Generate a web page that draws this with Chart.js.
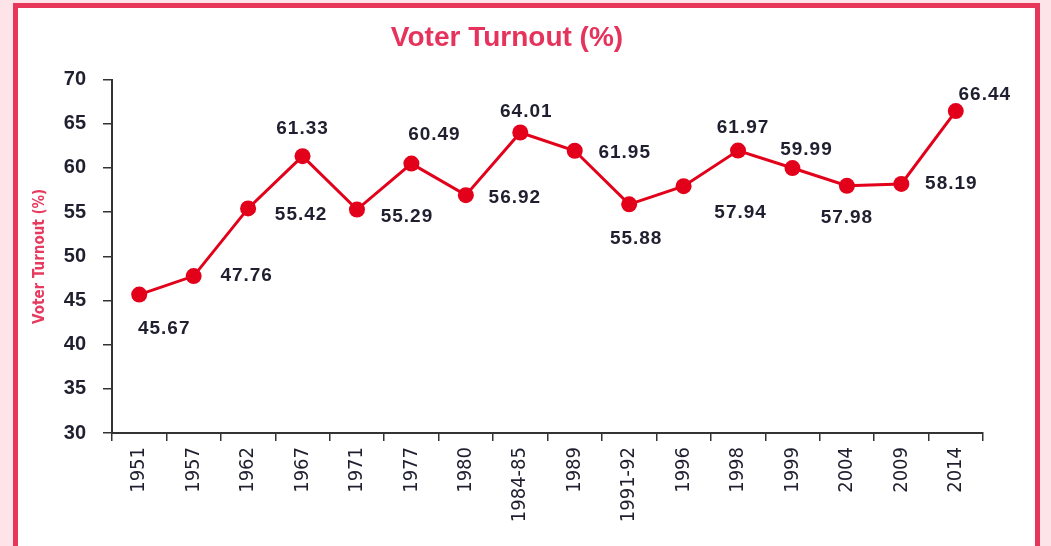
<!DOCTYPE html>
<html>
<head>
<meta charset="utf-8">
<script src="https://cdn.jsdelivr.net/npm/chart.js@4.4.1/dist/chart.umd.min.js"></script>
<style>
  html, body { margin: 0; padding: 0; width: 1051px; height: 546px; overflow: hidden; background: #fde4e9; }
  #frame { position: absolute; left: 13px; top: 3px; width: 1027px; height: 600px; box-sizing: border-box;
           border: 5px solid #e8365b; background: #ffffff; }
  #c { position: absolute; left: 0; top: 0; }
</style>
</head>
<body>
<div id="frame"></div>
<canvas id="c" width="1051" height="546"></canvas>
<script>
const categories = ['1951','1957','1962','1967','1971','1977','1980','1984-85','1989','1991-92','1996','1998','1999','2004','2009','2014'];
const turnout = [45.67, 47.76, 55.42, 61.33, 55.29, 60.49, 56.92, 64.01, 61.95, 55.88, 57.94, 61.97, 59.99, 57.98, 58.19, 66.44];
const yTicks = [30, 35, 40, 45, 50, 55, 60, 65, 70];

const chartTitle = 'Voter Turnout (%)';
const yTitle = 'Voter Turnout (%)';

// label placement offsets (style only), relative to each point
const labelOffsets = [
  [25, 34], [53, 0], [53, 6], [0, -27], [50, 7], [23, -29], [49, 3], [6, -21],
  [50, 2], [7, 34], [57, 27], [5, -23], [14, -18], [0, 32], [50, 0], [29, -16]
];

const NARROW = "'Liberation Sans Narrow', 'DejaVu Sans Condensed', 'Liberation Sans', sans-serif";
const SANS = "'Liberation Sans', Arial, sans-serif";
const RED = '#e2001a';
const TEXT = '#1f1f2f';
const AXIS = '#333333';

const valueLabels = {
  id: 'valueLabels',
  afterDatasetsDraw(chart) {
    const ctx = chart.ctx;
    const meta = chart.getDatasetMeta(0);
    ctx.save();
    ctx.font = 'bold 19px ' + SANS;
    if ('letterSpacing' in ctx) ctx.letterSpacing = '1px';
    ctx.fillStyle = TEXT;
    ctx.textAlign = 'center';
    ctx.textBaseline = 'middle';
    meta.data.forEach((pt, i) => {
      const off = labelOffsets[i] || [0, -20];
      ctx.fillText(turnout[i].toFixed(2), pt.x + off[0], pt.y + off[1]);
    });
    ctx.restore();
  }
};

new Chart(document.getElementById('c'), {
  type: 'line',
  data: {
    labels: categories,
    datasets: [{
      data: turnout,
      borderColor: RED,
      backgroundColor: RED,
      borderWidth: 3,
      pointRadius: 8,
      pointHoverRadius: 8,
      pointBackgroundColor: RED,
      pointBorderColor: RED,
      pointBorderWidth: 0,
      tension: 0,
      fill: false,
      clip: false
    }]
  },
  options: {
    responsive: false,
    devicePixelRatio: 1,
    animation: false,
    events: [],
    layout: { padding: { left: 31, right: 68, top: 0, bottom: 0 } },
    plugins: {
      legend: { display: false },
      tooltip: { enabled: false },
      title: {
        display: true,
        text: chartTitle,
        color: '#e5335c',
        font: { family: SANS, size: 28, weight: 'bold' },
        padding: { top: 21, bottom: 25 }
      }
    },
    scales: {
      x: {
        type: 'category',
        offset: true,
        afterFit(scale) { scale.height = 113; },
        grid: { display: true, offset: true, drawOnChartArea: false, drawTicks: true, tickLength: 8, color: AXIS, lineWidth: 1.5 },
        border: { display: true, color: AXIS, width: 2 },
        ticks: {
          autoSkip: false,
          maxRotation: 90,
          minRotation: 90,
          padding: 6,
          color: TEXT,
          font: { family: NARROW, size: 20 }
        }
      },
      y: {
        min: 30,
        max: 70,
        afterFit(scale) { scale.width = 81; },
        afterBuildTicks(scale) { scale.ticks = yTicks.map(v => ({ value: v })); },
        grid: { display: true, drawOnChartArea: false, drawTicks: true, tickLength: 9, color: AXIS, lineWidth: 1.5 },
        border: { display: true, color: AXIS, width: 2 },
        ticks: {
          stepSize: 5,
          padding: 17,
          color: TEXT,
          font: { family: SANS, size: 20, weight: 'bold' }
        },
        title: {
          display: true,
          text: yTitle,
          color: '#e73a5f',
          font: { family: NARROW, size: 15, weight: 'bold' },
          padding: { top: 0, bottom: 0 }
        }
      }
    }
  },
  plugins: [valueLabels]
});
</script>
</body>
</html>
